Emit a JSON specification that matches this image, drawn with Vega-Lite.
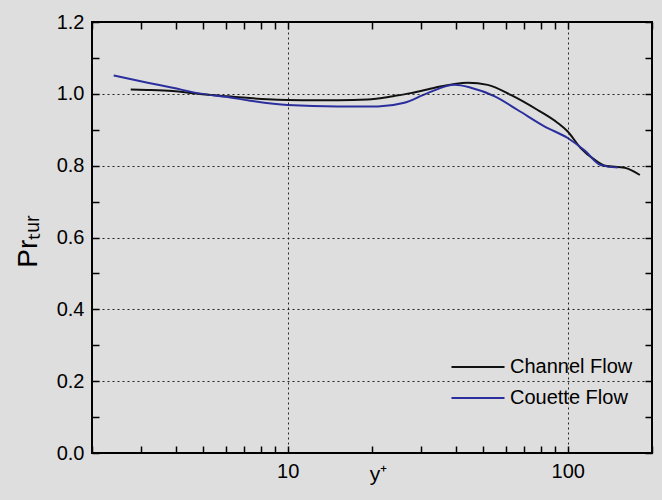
{
  "$schema": "https://vega.github.io/schema/vega-lite/v6.json",
  "width": 560,
  "height": 431,
  "autosize": {"type": "none"},
  "padding": {"left": 92, "top": 22, "right": 10, "bottom": 47},
  "background": "#dedede",
  "config": {
    "view": {"stroke": "#000", "strokeWidth": 2, "fill": "#dedede"},
    "font": "Liberation Sans",
    "axis": {
      "domain": false,
      "ticks": true,
      "tickColor": "#000",
      "tickOpacity": 1,
      "tickWidth": 1.5,
      "labelColor": "#000",
      "titleColor": "#000",
      "labelFont": "Liberation Sans",
      "titleFont": "Liberation Sans",
      "titleFontWeight": "normal"
    }
  },
  "data": {
    "values": [
      {"flow": "Channel Flow", "yplus": 2.75, "pr": 1.012},
      {"flow": "Channel Flow", "yplus": 3.16, "pr": 1.011},
      {"flow": "Channel Flow", "yplus": 3.88, "pr": 1.008},
      {"flow": "Channel Flow", "yplus": 4.77, "pr": 1.0},
      {"flow": "Channel Flow", "yplus": 6.1, "pr": 0.993},
      {"flow": "Channel Flow", "yplus": 8.48, "pr": 0.985},
      {"flow": "Channel Flow", "yplus": 10, "pr": 0.983},
      {"flow": "Channel Flow", "yplus": 12.8, "pr": 0.982},
      {"flow": "Channel Flow", "yplus": 15.1, "pr": 0.982},
      {"flow": "Channel Flow", "yplus": 19.3, "pr": 0.984},
      {"flow": "Channel Flow", "yplus": 21.0, "pr": 0.987},
      {"flow": "Channel Flow", "yplus": 24.0, "pr": 0.994},
      {"flow": "Channel Flow", "yplus": 27.5, "pr": 1.002},
      {"flow": "Channel Flow", "yplus": 33.5, "pr": 1.017},
      {"flow": "Channel Flow", "yplus": 39.0, "pr": 1.027},
      {"flow": "Channel Flow", "yplus": 44.0, "pr": 1.031},
      {"flow": "Channel Flow", "yplus": 51.8, "pr": 1.025},
      {"flow": "Channel Flow", "yplus": 62.6, "pr": 0.997},
      {"flow": "Channel Flow", "yplus": 78.1, "pr": 0.955},
      {"flow": "Channel Flow", "yplus": 92.1, "pr": 0.919},
      {"flow": "Channel Flow", "yplus": 100, "pr": 0.895},
      {"flow": "Channel Flow", "yplus": 111, "pr": 0.85},
      {"flow": "Channel Flow", "yplus": 125, "pr": 0.816},
      {"flow": "Channel Flow", "yplus": 136, "pr": 0.8},
      {"flow": "Channel Flow", "yplus": 160, "pr": 0.794},
      {"flow": "Channel Flow", "yplus": 181, "pr": 0.774},
      {"flow": "Couette Flow", "yplus": 2.39, "pr": 1.051},
      {"flow": "Couette Flow", "yplus": 3.16, "pr": 1.031},
      {"flow": "Couette Flow", "yplus": 3.88, "pr": 1.017},
      {"flow": "Couette Flow", "yplus": 4.77, "pr": 1.002},
      {"flow": "Couette Flow", "yplus": 6.1, "pr": 0.991},
      {"flow": "Couette Flow", "yplus": 7.2, "pr": 0.982},
      {"flow": "Couette Flow", "yplus": 10, "pr": 0.969},
      {"flow": "Couette Flow", "yplus": 15.1, "pr": 0.965},
      {"flow": "Couette Flow", "yplus": 21.0, "pr": 0.965},
      {"flow": "Couette Flow", "yplus": 26.1, "pr": 0.975},
      {"flow": "Couette Flow", "yplus": 31.6, "pr": 1.002},
      {"flow": "Couette Flow", "yplus": 39.5, "pr": 1.025},
      {"flow": "Couette Flow", "yplus": 45.1, "pr": 1.017},
      {"flow": "Couette Flow", "yplus": 54.9, "pr": 0.993},
      {"flow": "Couette Flow", "yplus": 66.3, "pr": 0.955},
      {"flow": "Couette Flow", "yplus": 82.8, "pr": 0.909},
      {"flow": "Couette Flow", "yplus": 100, "pr": 0.877},
      {"flow": "Couette Flow", "yplus": 115, "pr": 0.842},
      {"flow": "Couette Flow", "yplus": 131, "pr": 0.802},
      {"flow": "Couette Flow", "yplus": 151, "pr": 0.795}
    ]
  },
  "layer": [
    {
      "mark": {"type": "line", "strokeOpacity": 0},
      "encoding": {
        "x": {
          "field": "yplus", "type": "quantitative",
          "scale": {"type": "log", "domain": [2, 200], "nice": false},
          "axis": {
            "orient": "top", "labels": false, "title": null, "grid": false, "ticks": true,
            "values": [2,3,4,5,6,7,8,9,10,20,30,40,50,60,70,80,90,100,200],
            "tickSize": 7, "offset": -7, "tickColor": "#000", "zindex": 1
          }
        },
        "y": {
          "field": "pr", "type": "quantitative",
          "scale": {"domain": [0, 1.2], "nice": false, "zero": false},
          "axis": {
            "orient": "right", "labels": false, "title": null, "grid": false, "ticks": true,
            "values": [0,0.1,0.2,0.3,0.4,0.5,0.6,0.7,0.8,0.9,1.0,1.1,1.2],
            "tickSize": 7, "offset": -7, "tickColor": "#000", "zindex": 1
          }
        }
      }
    },
    {
      "mark": {"type": "line", "strokeWidth": 2, "interpolate": "monotone"},
      "encoding": {
        "x": {
          "field": "yplus", "type": "quantitative",
          "scale": {"type": "log", "domain": [2, 200], "nice": false},
          "axis": {
            "orient": "bottom",
            "offset": -7,
            "ticks": true,
            "tickColor": "#000",
            "zindex": 1,
            "values": [2,3,4,5,6,7,8,9,10,20,30,40,50,60,70,80,90,100,200],
            "labelExpr": "datum.value == 10 ? '10' : (datum.value == 100 ? '100' : '')",
            "labelFontSize": 20,
            "labelPadding": 8,
            "tickSize": 7,
            "grid": true,
            "gridColor": "#222",
            "gridDash": [2, 3],
            "gridWidth": 1,
            "gridOpacity": {"condition": {"test": "datum.value == 10 || datum.value == 100", "value": 1}, "value": 0},
            "title": "y⁺",
            "titleFontSize": 21,
            "titleX": 286,
            "titleY": 34,
            "titleBaseline": "alphabetic"
          }
        },
        "y": {
          "field": "pr", "type": "quantitative",
          "scale": {"domain": [0, 1.2], "nice": false, "zero": false},
          "axis": {
            "orient": "left",
            "offset": -7,
            "ticks": true,
            "tickColor": "#000",
            "zindex": 1,
            "values": [0,0.1,0.2,0.3,0.4,0.5,0.6,0.7,0.8,0.9,1.0,1.1,1.2],
            "labelExpr": "round(datum.value * 10) % 2 == 0 ? format(datum.value, '.1f') : ''",
            "labelFontSize": 20,
            "labelPadding": 8,
            "tickSize": 7,
            "grid": true,
            "gridColor": "#222",
            "gridDash": [2, 3],
            "gridWidth": 1,
            "gridOpacity": {"condition": {"test": "round(datum.value * 10) % 2 == 0 && datum.value > 0.05 && datum.value < 1.15", "value": 1}, "value": 0},
            "title": "Prₜᵤᵣ",
            "titleFontSize": 28,
            "titleX": -63,
            "titleY": 219,
            "titleAlign": "center",
            "titleBaseline": "alphabetic"
          }
        },
        "color": {
          "field": "flow", "type": "nominal",
          "scale": {"domain": ["Channel Flow", "Couette Flow"], "range": ["#111111", "#2b2f9e"]},
          "legend": {
            "title": null,
            "orient": "none",
            "legendX": 374,
            "legendY": 333,
            "symbolType": "M-2.5,0H2.5",
            "symbolSize": 450,
            "symbolStrokeWidth": 2,
            "labelFontSize": 20,
            "labelFont": "Liberation Sans",
            "labelColor": "#000",
            "labelOffset": 20,
            "rowPadding": 9
          }
        }
      }
    }
  ]
}
